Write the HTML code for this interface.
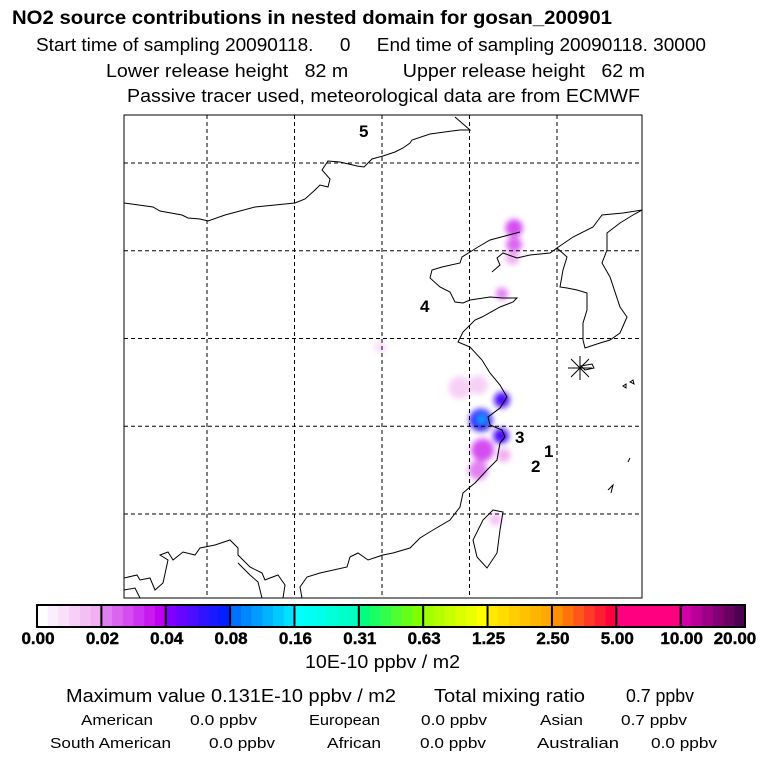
<!DOCTYPE html>
<html><head><meta charset="utf-8">
<style>
html,body{margin:0;padding:0;background:#fff;}
svg{display:block;font-family:"Liberation Sans",sans-serif;}
</style></head>
<body>
<svg id="chart" width="768" height="768" viewBox="0 0 768 768" xmlns="http://www.w3.org/2000/svg">
<defs>
<filter id="blur" x="-100%" y="-100%" width="300%" height="300%"><feGaussianBlur stdDeviation="3"/></filter>
<clipPath id="mapclip"><rect x="124" y="115" width="518" height="483"/></clipPath>
</defs>
<g fill="#000">
<text x="12" y="24" font-size="19" font-weight="bold" textLength="600" lengthAdjust="spacingAndGlyphs">NO2 source contributions in nested domain for gosan_200901</text>
<text x="36" y="51" font-size="18" textLength="670" lengthAdjust="spacingAndGlyphs" xml:space="preserve">Start time of sampling 20090118.     0     End time of sampling 20090118. 30000</text>
<text x="106" y="77" font-size="18" textLength="539" lengthAdjust="spacingAndGlyphs" xml:space="preserve">Lower release height   82 m          Upper release height   62 m</text>
<text x="127" y="102" font-size="18" textLength="513" lengthAdjust="spacingAndGlyphs">Passive tracer used, meteorological data are from ECMWF</text>
</g>
<g id="plume" clip-path="url(#mapclip)" filter="url(#blur)"></g>
<g id="grid" stroke="#000" stroke-width="1" stroke-dasharray="4,3" fill="none"></g>
<g stroke="#000" stroke-width="1" fill="none" clip-path="url(#mapclip)">
<polyline points="124,203 153,207 160,211 182,215 188,218 200,219 208,221 225,215 255,207 295,203 305,199 315,190 320,185 328,187 330,179 322,170 328,161 340,162 357,166 364,167 372,159 383,156 395,152 403,148 410,143 412,140 430,134 452,131 460,130 470,130 455,117"/>
<polyline points="478,247 470,252 462,257 460,263 442,267 432,270 430,278 440,287 450,292 455,302 463,303 470,300 490,297 503,298 517,298 513,302 500,307 482,317 475,320 463,332 458,342 470,347 482,360 490,373 500,385 507,397 500,408 488,417 490,425 502,430 505,437 500,443 497,460 487,470 475,483 470,487 463,493 460,507 450,520 433,530 420,538 410,548 393,553 383,555 368,560 358,553 350,557 347,567 320,573 307,577 300,587 302,598"/>
<polyline points="492,272 500,265 497,258 503,253 517,258 530,255 550,253 557,248 567,257 563,270 560,287 567,288 577,290 587,293 587,310 583,323 583,340 585,348 600,343 610,340 620,333 627,317 620,307 610,277 602,263 607,250 607,233 620,223 633,215 642,210"/>
<polyline points="557,248 573,237 593,227 602,215 623,213 642,210"/>
<polyline points="478,247 490,240 505,236 520,232"/>
<polygon points="493,510 503,512 500,530 497,553 487,568 477,557 473,540 483,520"/>
<polyline points="124,578 137,575 140,580 150,578 155,590 163,583 168,560 160,555 168,552 173,560 183,552 195,555 200,548 215,545 230,540 238,548 238,555 250,567 262,573 265,580 270,578 278,575 285,585 283,598"/>
<polyline points="124,590 135,588 140,598"/>
<polyline points="238,563 250,575 258,582 262,598"/>
<polygon points="581,366 592,364 594,368 585,370"/>
<polygon points="630,382 633,380 634,384"/>
<polygon points="623,386 626,384 626,388"/>
<polyline points="608,490 613,485 611,493"/>
<polyline points="628,462 630,458"/>
</g>
<g stroke="#000" stroke-width="1">
<line x1="568" y1="368" x2="592" y2="368"/><line x1="580" y1="356" x2="580" y2="380"/>
<line x1="571" y1="359" x2="589" y2="377"/><line x1="589" y1="359" x2="571" y2="377"/>
</g>
<g font-size="17" font-weight="bold">
<text x="359" y="137">5</text>
<text x="420" y="312">4</text>
<text x="515" y="443">3</text>
<text x="544" y="457">1</text>
<text x="531" y="472">2</text>
</g>
<rect x="124" y="115" width="518" height="483" fill="none" stroke="#000" stroke-width="1"/>
<g id="cbar"></g>
<g fill="#000">
<text x="305" y="668" font-size="18" textLength="155" lengthAdjust="spacingAndGlyphs">10E-10 ppbv / m2</text>
<text x="66" y="702" font-size="18" textLength="330" lengthAdjust="spacingAndGlyphs">Maximum value  0.131E-10 ppbv / m2</text>
<text x="434" y="702" font-size="18" textLength="151" lengthAdjust="spacingAndGlyphs">Total mixing ratio</text>
<text x="626" y="702" font-size="18" textLength="68" lengthAdjust="spacingAndGlyphs">0.7 ppbv</text>
<g font-size="15">
<text x="81" y="725" textLength="72" lengthAdjust="spacingAndGlyphs">American</text>
<text x="190" y="725" textLength="67" lengthAdjust="spacingAndGlyphs">0.0 ppbv</text>
<text x="309" y="725" textLength="71" lengthAdjust="spacingAndGlyphs">European</text>
<text x="421" y="725" textLength="66" lengthAdjust="spacingAndGlyphs">0.0 ppbv</text>
<text x="540" y="725" textLength="43" lengthAdjust="spacingAndGlyphs">Asian</text>
<text x="621" y="725" textLength="66" lengthAdjust="spacingAndGlyphs">0.7 ppbv</text>
<text x="50" y="748" textLength="121" lengthAdjust="spacingAndGlyphs">South American</text>
<text x="209" y="748" textLength="66" lengthAdjust="spacingAndGlyphs">0.0 ppbv</text>
<text x="327" y="748" textLength="54" lengthAdjust="spacingAndGlyphs">African</text>
<text x="420" y="748" textLength="66" lengthAdjust="spacingAndGlyphs">0.0 ppbv</text>
<text x="537" y="748" textLength="82" lengthAdjust="spacingAndGlyphs">Australian</text>
<text x="651" y="748" textLength="66" lengthAdjust="spacingAndGlyphs">0.0 ppbv</text>
</g>
</g>
</svg>
<script>
// Colorbar data
const levels = ["0.00","0.02","0.04","0.08","0.16","0.31","0.63","1.25","2.50","5.00","10.00","20.00"];
const levelVals = [0,0.02,0.04,0.08,0.16,0.31,0.63,1.25,2.5,5,10,20];
const segStart = ["#ffffff","#e080f0","#8000ff","#0070ff","#00ffff","#00ff80","#a0ff00","#ffe800","#ff9000","#ff0080","#d000a8"];
const segEnd   = ["#f0b0f0","#c000f0","#0020ff","#00e0ff","#00ffc0","#80ff00","#ffff00","#ffa800","#ff0040","#ff0080","#500050"];
// Grid (lon/lat)
const gridLons = [80,90,100,110,120,130];
const gridLats = [60,50,40,30,20];
// Plume blobs (lon, lat, value in 10E-10 ppbv/m2, radius deg)
const plumeLon = [115.1,115.1,114.9,113.7,99.8,108.9,111.0,113.7,111.3,111.4,113.6,111.5,111.0,113.9,113.0];
const plumeLat = [52.6,50.7,49.2,45.1,39.0,34.4,34.7,33.0,30.7,30.8,28.9,27.3,25.0,26.7,19.4];
const plumeVal = [0.03,0.024,0.017,0.022,0.008,0.01,0.013,0.055,0.065,0.12,0.055,0.028,0.022,0.017,0.014];
const plumeRad = [1.0,0.9,0.8,0.7,0.7,1.3,1.1,0.9,1.3,0.6,0.9,1.3,1.1,0.8,0.7];

const NS="http://www.w3.org/2000/svg";
const xLon = lon => 207 + (lon-80)*8.75;
const yLat = lat => 163 + (60-lat)*8.775;
function hex2rgb(h){return [parseInt(h.substr(1,2),16),parseInt(h.substr(3,2),16),parseInt(h.substr(5,2),16)];}
function mix(a,b,t){const A=hex2rgb(a),B=hex2rgb(b);return "rgb("+A.map((v,i)=>Math.round(v+(B[i]-v)*t)).join(",")+")";}
function colorFor(v){
  for(let i=0;i<levelVals.length-1;i++){
    if(v<levelVals[i+1]){const t=(v-levelVals[i])/(levelVals[i+1]-levelVals[i]);return mix(segStart[i],segEnd[i],Math.floor(t*6)/5);}
  }
  return segEnd[segEnd.length-1];
}
// grid
const grid=document.getElementById('grid');
gridLons.forEach(lon=>{
  const l=document.createElementNS(NS,'line');
  
  
  l.setAttribute('x1',xLon(lon));l.setAttribute('x2',xLon(lon));l.setAttribute('y1',115);l.setAttribute('y2',598);
  if(xLon(lon)>124&&xLon(lon)<642)grid.appendChild(l);
});
gridLats.forEach(lat=>{
  const l=document.createElementNS(NS,'line');
  
  
  l.setAttribute('x1',124);l.setAttribute('x2',642);l.setAttribute('y1',yLat(lat));l.setAttribute('y2',yLat(lat));
  grid.appendChild(l);
});
// plume
const plume=document.getElementById('plume');
plumeLon.forEach((lon,i)=>{
  const c=document.createElementNS(NS,'circle');
  
  
  c.setAttribute('cx',xLon(lon));c.setAttribute('cy',yLat(plumeLat[i]));
  c.setAttribute('r',plumeRad[i]*8.75);
  c.setAttribute('fill',colorFor(plumeVal[i]));
  plume.appendChild(c);
});
// colorbar
const cbar=document.getElementById('cbar');
const cbX0=37,cbX1=745,cbY=605,cbH=22,nSeg=segStart.length,segW=(cbX1-cbX0)/nSeg;
for(let i=0;i<nSeg;i++){
  for(let k=0;k<6;k++){
    const r=document.createElementNS(NS,'rect');
    
    
    r.setAttribute('x',cbX0+i*segW+k*segW/6);r.setAttribute('y',cbY);
    r.setAttribute('width',segW/6+0.5);r.setAttribute('height',cbH);
    r.setAttribute('fill',mix(segStart[i],segEnd[i],k/5));
    cbar.appendChild(r);
  }
}
const frame=document.createElementNS(NS,'rect');


frame.setAttribute('x',cbX0);frame.setAttribute('y',cbY);frame.setAttribute('width',cbX1-cbX0);frame.setAttribute('height',cbH);
frame.setAttribute('fill','none');frame.setAttribute('stroke','#000');frame.setAttribute('stroke-width','2');
cbar.appendChild(frame);
levels.forEach((lab,i)=>{
  const x=cbX0+i*segW;
  if(i>0&&i<levels.length-1){
    const d=document.createElementNS(NS,'line');
    
    
    d.setAttribute('x1',x);d.setAttribute('x2',x);d.setAttribute('y1',cbY);d.setAttribute('y2',cbY+cbH);
    d.setAttribute('stroke','#000');d.setAttribute('stroke-width','2');
    cbar.appendChild(d);
  }
  const t=document.createElementNS(NS,'text');
  
  
  t.setAttribute('x',Math.min(Math.max(x+1,24),735));t.setAttribute('y',644);
  t.setAttribute('text-anchor','middle');t.setAttribute('font-size','17');t.setAttribute('font-weight','bold');
  t.setAttribute('stroke','#000');t.setAttribute('stroke-width','0.4');
  t.textContent=lab;
  cbar.appendChild(t);
});
</script>
</body></html>
